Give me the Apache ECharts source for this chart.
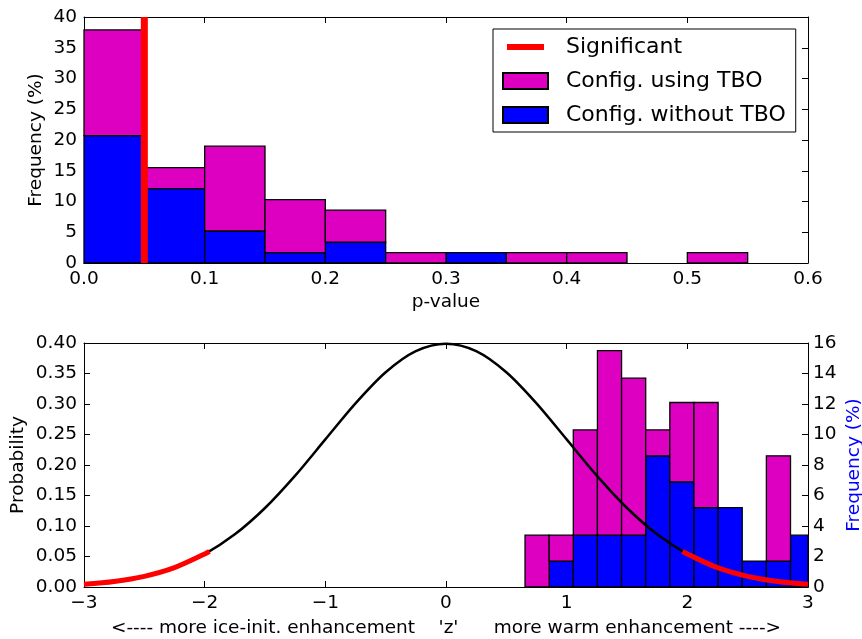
<!DOCTYPE html>
<html>
<head>
<meta charset="utf-8">
<script src="https://cdn.jsdelivr.net/npm/echarts@6/dist/echarts.min.js"></script>
<style>
  html, body { margin: 0; padding: 0; background: #fff; }
  #chart { width: 862px; height: 639px; }
</style>
</head>
<body>
<div id="chart"></div>
<script>
// ---- top panel: p-value histogram (stacked, %)
var pEdges = [0, 0.05, 0.1, 0.15, 0.2, 0.25, 0.3, 0.35, 0.4, 0.45, 0.5, 0.55, 0.6]
var pWithoutTBO = [20.7, 12.1, 5.2, 1.7, 3.4, 0, 1.7, 0, 0, 0, 0, 0]
var pUsingTBO = [17.2, 3.4, 13.8, 8.6, 5.2, 1.7, 0, 1.7, 1.7, 0, 1.7, 0]
var sigP = 0.05

// ---- bottom panel: z histogram (stacked, %) + standard normal curve
var zEdges = [0.655, 0.855, 1.055, 1.255, 1.455, 1.655, 1.855, 2.055, 2.255, 2.455, 2.655, 2.855, 3.055]
var zWithoutTBO = [0, 1.7, 3.4, 3.4, 3.4, 8.6, 6.9, 5.2, 5.2, 1.7, 1.7, 3.4]
var zUsingTBO = [3.4, 1.7, 6.9, 12.1, 10.3, 1.7, 5.2, 6.9, 0, 0, 6.9, 0]

var curveZ = [-3, -2.75, -2.5, -2.25, -2, -1.75, -1.5, -1.25, -1, -0.75, -0.5, -0.25, 0,
  0.25, 0.5, 0.75, 1, 1.25, 1.5, 1.75, 2, 2.25, 2.5, 2.75, 3]
var curveP = [0.0044, 0.0091, 0.0175, 0.0317, 0.0540, 0.0863, 0.1295, 0.1826, 0.2420, 0.3011, 0.3521, 0.3867, 0.3989,
  0.3867, 0.3521, 0.3011, 0.2420, 0.1826, 0.1295, 0.0863, 0.0540, 0.0317, 0.0175, 0.0091, 0.0044]
var leftTailZ = [-3, -2.75, -2.5, -2.25, -2, -1.96]
var leftTailP = [0.0044, 0.0091, 0.0175, 0.0317, 0.0540, 0.0584]
var rightTailZ = [1.96, 2, 2.25, 2.5, 2.75, 3]
var rightTailP = [0.0584, 0.0540, 0.0317, 0.0175, 0.0091, 0.0044]

var probTicks = ['0.00', '0.05', '0.10', '0.15', '0.20', '0.25', '0.30', '0.35', '0.40']

var MAGENTA = '#dd00c0'
var BLUE = '#0000ff'
var RED = '#ff0000'
var FONT = 'DejaVu Sans'

function histData(edges, base, vals) {
  var out = []
  for (var i = 0; i < vals.length; i++) {
    if (!vals[i]) continue
    var b = base ? base[i] : 0
    out.push([edges[i], edges[i + 1], b, b + vals[i]])
  }
  return out
}

function pairs(xs, ys) {
  return xs.map(function(x, i) { return [x, ys[i]] })
}

function renderBin(params, api) {
  var p0 = api.coord([api.value(0), api.value(3)])
  var p1 = api.coord([api.value(1), api.value(2)])
  var cs = params.coordSys
  var shape = echarts.graphic.clipRectByRect(
    { x: p0[0], y: p0[1], width: p1[0] - p0[0], height: p1[1] - p0[1] },
    { x: cs.x, y: cs.y, width: cs.width, height: cs.height })
  if (!shape) return
  return {
    type: 'rect',
    shape: shape,
    style: { fill: api.visual('color'), stroke: '#000', lineWidth: 1.3 }
  }
}

// vertical threshold line, drawn through the axes
function renderVLine(params, api) {
  var a = api.coord([api.value(0), api.value(1)])
  var b = api.coord([api.value(0), api.value(2)])
  return {
    type: 'line',
    shape: { x1: a[0], y1: a[1], x2: b[0], y2: b[1] },
    style: { stroke: RED, lineWidth: 7 }
  }
}

function histSeries(name, color, xi, yi, data) {
  return {
    name: name,
    type: 'custom',
    xAxisIndex: xi,
    yAxisIndex: yi,
    renderItem: renderBin,
    itemStyle: { color: color, borderColor: '#000', borderWidth: 1 },
    encode: { x: [0, 1], y: [2, 3] },
    data: data,
    z: 2
  }
}

var tickStyle = { inside: true, length: 6, lineStyle: { color: '#000', width: 1 } }
var lineStyle = { onZero: false, lineStyle: { color: '#000', width: 1 } }
var labelStyle = { color: '#000', fontSize: 18.5, fontFamily: FONT }
var nameStyle = { color: '#000', fontSize: 18.5, fontFamily: FONT }

function mirrorX(grid, min, max, interval) {
  return {
    gridIndex: grid, type: 'value', position: 'top', min: min, max: max, interval: interval,
    axisLine: lineStyle, axisTick: tickStyle, axisLabel: { show: false }, splitLine: { show: false }
  }
}

var chart = echarts.init(document.getElementById('chart'))
chart.setOption({
  animation: false,
  backgroundColor: '#fff',
  grid: [
    { left: 84, top: 17, width: 724, height: 246, outerBoundsMode: 'none' },
    { left: 84, top: 343, width: 724, height: 244, outerBoundsMode: 'none' }
  ],
  legend: {
    orient: 'vertical',
    left: 493,
    top: 29,
    padding: [7, 10, 6, 9],
    itemWidth: 45,
    itemHeight: 16,
    itemGap: 12,
    borderColor: '#000',
    borderWidth: 1,
    borderRadius: 0,
    backgroundColor: '#fff',
    textStyle: { color: '#000', fontSize: 22, fontFamily: FONT, padding: [0, 0, 0, 13] },
    data: [
      { name: 'Significant', icon: 'path://M0,0 M45,16 M4,5 L41,5 L41,11 L4,11 Z' },
      { name: 'Config. using TBO', icon: 'rect' },
      { name: 'Config. without TBO', icon: 'rect' }
    ]
  },
  xAxis: [
    {
      gridIndex: 0, type: 'value', min: 0, max: 0.6, interval: 0.1,
      name: 'p-value', nameLocation: 'middle', nameGap: 30, nameTextStyle: nameStyle,
      axisLine: lineStyle, axisTick: tickStyle,
      axisLabel: Object.assign({ margin: 7, formatter: function(v) { return v.toFixed(1) } }, labelStyle),
      splitLine: { show: false }
    },
    mirrorX(0, 0, 0.6, 0.1),
    {
      gridIndex: 1, type: 'value', min: -3, max: 3, interval: 1,
      name: "<---- more ice-init. enhancement    'z'      more warm enhancement ---->",
      nameLocation: 'middle', nameGap: 32, nameTextStyle: nameStyle,
      axisLine: lineStyle, axisTick: tickStyle,
      axisLabel: Object.assign({ margin: 7, formatter: function(v) { return String(v).replace('-', '\u2212') } }, labelStyle),
      splitLine: { show: false }
    },
    mirrorX(1, -3, 3, 1)
  ],
  yAxis: [
    {
      gridIndex: 0, type: 'value', min: 0, max: 40, interval: 5,
      name: 'Frequency (%)', nameLocation: 'middle', nameGap: 38, nameRotate: 90, nameMoveOverlap: false,
      nameTextStyle: nameStyle,
      axisLine: lineStyle, axisTick: tickStyle,
      axisLabel: Object.assign({ margin: 7 }, labelStyle),
      splitLine: { show: false }
    },
    {
      gridIndex: 0, type: 'value', position: 'right', min: 0, max: 40, interval: 5,
      axisLine: lineStyle, axisTick: tickStyle, axisLabel: { show: false }, splitLine: { show: false }
    },
    {
      gridIndex: 1, type: 'value', min: 0, max: 0.4, interval: 0.05,
      name: 'Probability', nameLocation: 'middle', nameGap: 56, nameRotate: 90, nameMoveOverlap: false,
      nameTextStyle: nameStyle,
      axisLine: lineStyle, axisTick: tickStyle,
      axisLabel: Object.assign({ margin: 7, formatter: function(v) { return probTicks[Math.round(v / 0.05)] } }, labelStyle),
      splitLine: { show: false }
    },
    {
      gridIndex: 1, type: 'value', position: 'right', min: 0, max: 16, interval: 2,
      name: 'Frequency (%)', nameLocation: 'middle', nameGap: 37, nameRotate: 90, nameMoveOverlap: false,
      nameTextStyle: { color: BLUE, fontSize: 18.5, fontFamily: FONT },
      axisLine: lineStyle, axisTick: tickStyle,
      axisLabel: Object.assign({ margin: 5 }, labelStyle),
      splitLine: { show: false }
    }
  ],
  series: [
    histSeries('Config. without TBO', BLUE, 0, 0, histData(pEdges, null, pWithoutTBO)),
    histSeries('Config. using TBO', MAGENTA, 0, 0, histData(pEdges, pWithoutTBO, pUsingTBO)),
    {
      name: 'Significant', type: 'custom', xAxisIndex: 0, yAxisIndex: 0,
      renderItem: renderVLine, itemStyle: { color: RED, borderWidth: 0 },
      encode: { x: 0, y: [1, 2] },
      data: [[sigP, 0, 40]], z: 5
    },
    histSeries('Config. without TBO', BLUE, 2, 3, histData(zEdges, null, zWithoutTBO)),
    histSeries('Config. using TBO', MAGENTA, 2, 3, histData(zEdges, zWithoutTBO, zUsingTBO)),
    {
      type: 'line', xAxisIndex: 2, yAxisIndex: 2, symbol: 'none', smooth: 0.3,
      lineStyle: { color: '#000', width: 2.5 }, data: pairs(curveZ, curveP), z: 5
    },
    {
      type: 'line', xAxisIndex: 2, yAxisIndex: 2, symbol: 'none', smooth: 0.3,
      lineStyle: { color: RED, width: 5 }, data: pairs(leftTailZ, leftTailP), z: 6
    },
    {
      type: 'line', xAxisIndex: 2, yAxisIndex: 2, symbol: 'none', smooth: 0.3,
      lineStyle: { color: RED, width: 5 }, data: pairs(rightTailZ, rightTailP), z: 6
    }
  ]
})
</script>
</body>
</html>
